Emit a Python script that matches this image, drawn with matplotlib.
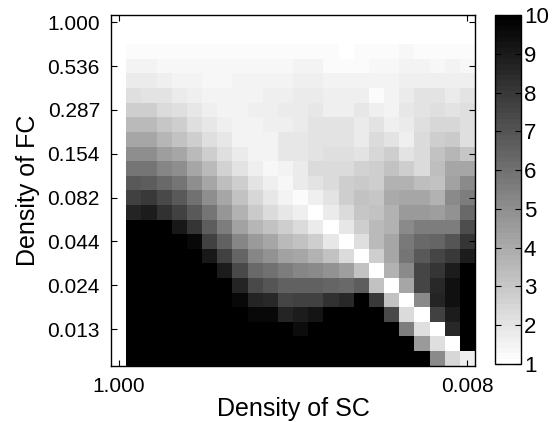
import numpy as np
import matplotlib
matplotlib.use("Agg")
import matplotlib.pyplot as plt

plt.rcParams['font.family'] = ['Liberation Sans', 'DejaVu Sans']

# tick labels (densities)
fc_ticks = ['0.013', '0.024', '0.044', '0.082', '0.154', '0.287', '0.536', '1.000']
sc_ticks = ['1.000', '0.008']

# values 1..10, rows from top to bottom, 23 columns each
rows = [
    [1.2]*14 + [1.0, 1.2, 1.2, 1.2, 1.3, 1.2, 1.2, 1.2, 1.2],
    [1.5, 1.5, 1.4, 1.4, 1.4, 1.4, 1.4, 1.4, 1.4, 1.4, 1.4, 1.5, 1.5, 1.2, 1.2, 1.2, 1.4, 1.4, 1.5, 1.5, 1.3, 1.5, 1.3],
    [1.8, 1.8, 1.7, 1.5, 1.5, 1.35, 1.35, 1.5, 1.5, 1.5, 1.5, 1.6, 1.6, 1.5, 1.5, 1.5, 1.5, 1.5, 1.7, 1.7, 1.7, 1.7, 1.7],
    [2.2, 2.1, 2.0, 1.8, 1.6, 1.5, 1.5, 1.5, 1.5, 1.6, 1.6, 1.8, 1.8, 1.6, 1.6, 1.6, 1.25, 1.5, 1.8, 2.0, 2.0, 1.8, 2.0],
    [2.8, 2.8, 2.4, 2.2, 1.95, 1.6, 1.5, 1.5, 1.7, 1.7, 1.8, 1.8, 1.9, 1.7, 1.7, 1.9, 1.7, 1.5, 1.9, 2.1, 2.2, 2.1, 2.2],
    [3.5, 3.5, 3.05, 2.7, 2.2, 1.9, 1.6, 1.5, 1.5, 1.6, 1.7, 1.8, 2.0, 2.0, 2.0, 1.8, 2.0, 1.6, 1.75, 2.2, 2.5, 2.5, 2.2],
    [4.2, 4.2, 3.6, 3.2, 2.8, 2.15, 1.9, 1.5, 1.5, 1.55, 1.9, 1.9, 2.1, 2.1, 2.1, 1.75, 2.4, 2.0, 1.7, 2.4, 2.8, 2.9, 2.2],
    [5.0, 5.0, 4.5, 4.1, 3.4, 2.8, 2.15, 1.75, 1.5, 1.5, 1.9, 1.9, 2.0, 2.2, 2.2, 2.1, 2.5, 2.7, 2.1, 2.4, 3.15, 3.6, 3.05],
    [5.8, 5.8, 5.3, 5.0, 4.2, 3.4, 2.6, 2.1, 1.7, 1.35, 1.5, 1.8, 2.3, 2.4, 2.4, 2.6, 2.7, 3.2, 2.8, 2.3, 3.3, 4.1, 4.2],
    [6.8, 6.7, 6.3, 5.9, 5.0, 4.1, 3.3, 2.7, 2.1, 1.6, 1.35, 1.75, 2.1, 2.4, 2.7, 2.9, 2.7, 3.8, 3.8, 3.3, 3.2, 4.35, 5.1],
    [7.7, 7.9, 7.4, 6.8, 6.0, 5.0, 4.1, 3.15, 2.5, 1.9, 1.5, 1.25, 1.6, 2.1, 2.7, 3.15, 3.05, 4.0, 4.2, 4.1, 3.8, 5.1, 5.6],
    [8.6, 8.9, 8.3, 7.7, 6.8, 5.8, 4.7, 3.8, 2.9, 2.4, 1.9, 1.7, 1.0, 1.8, 2.4, 3.05, 3.2, 3.8, 4.6, 4.6, 4.5, 4.9, 6.3],
    [10, 10, 10, 9.15, 8.1, 6.7, 5.5, 4.35, 3.6, 3.2, 2.7, 2.4, 1.8, 1.0, 1.9, 2.8, 3.4, 3.8, 5.2, 5.5, 5.5, 5.5, 7.2],
    [10, 10, 10, 10, 9.6, 7.7, 6.5, 5.3, 4.55, 4.1, 3.5, 3.15, 2.8, 1.9, 1.0, 2.2, 3.4, 4.2, 5.7, 6.3, 6.4, 7.0, 8.1],
    [10, 10, 10, 10, 10, 9.15, 7.7, 6.4, 5.3, 4.9, 4.35, 4.15, 3.8, 3.2, 2.4, 1.0, 2.7, 4.1, 5.8, 6.9, 7.5, 8.0, 9.0],
    [10, 10, 10, 10, 10, 10, 8.9, 7.4, 6.3, 6.0, 5.5, 5.3, 5.1, 4.85, 4.5, 3.15, 1.0, 3.8, 5.2, 7.5, 8.1, 8.9, 10],
    [10, 10, 10, 10, 10, 10, 10, 8.6, 7.4, 7.0, 6.5, 6.55, 6.5, 6.4, 6.3, 6.75, 3.2, 1.0, 4.1, 7.5, 8.5, 9.4, 10],
    [10, 10, 10, 10, 10, 10, 10, 9.65, 8.6, 8.5, 7.6, 7.7, 7.7, 8.3, 8.5, 10, 7.9, 3.15, 1.0, 5.1, 8.6, 9.4, 10],
    [10]*8 + [9.6, 9.7, 8.6, 8.9, 9.25, 10, 10, 10, 10, 7.4, 2.4, 1.0, 7.7, 9.0, 10],
    [10]*11 + [9.5, 10, 10, 10, 10, 10, 10, 5.5, 2.2, 1.0, 8.5, 10],
    [10]*19 + [4.6, 2.2, 1.0, 10],
    [10]*20 + [5.1, 2.5, 1.6],
]

Z = np.array(rows[::-1])  # bottom row first
nrow, ncol = Z.shape

fig = plt.figure(figsize=(5.56, 4.22), dpi=100)
ax = fig.add_axes([111/556, 1 - 365.7/422, 364/556, 350.7/422])
cax = fig.add_axes([494.5/556, 1 - 364/422, 26.5/556, 349/422])

cmap = plt.get_cmap('gray_r', 64)
xe = np.arange(1, ncol + 2)
ye = np.arange(0, nrow + 1)
mesh = ax.pcolormesh(xe, ye, Z, cmap=cmap, vmin=1, vmax=10)

ax.set_xlim(0, 24)
ax.set_ylim(0, 24)
ax.set_xticks([0.5, 23.5])
ax.set_xticklabels(sc_ticks)
ax.set_yticks(np.arange(2.5, 24, 3))
ax.set_yticklabels(fc_ticks)
ax.tick_params(direction='in', length=4, width=0.8, labelsize=15,
               top=True, right=True, pad=8)
for s in ax.spines.values():
    s.set_linewidth(1.0)
ax.set_xlabel('Density of SC', fontsize=18, labelpad=1)
ax.set_ylabel('Density of FC', fontsize=18, labelpad=5)

cb = fig.colorbar(mesh, cax=cax, ticks=range(1, 11))
cb.outline.set_linewidth(1.0)
cax.tick_params(direction='in', length=4, width=0.8, labelsize=16,
                left=True, right=True, pad=2)

fig.savefig('out.png', dpi=100)
